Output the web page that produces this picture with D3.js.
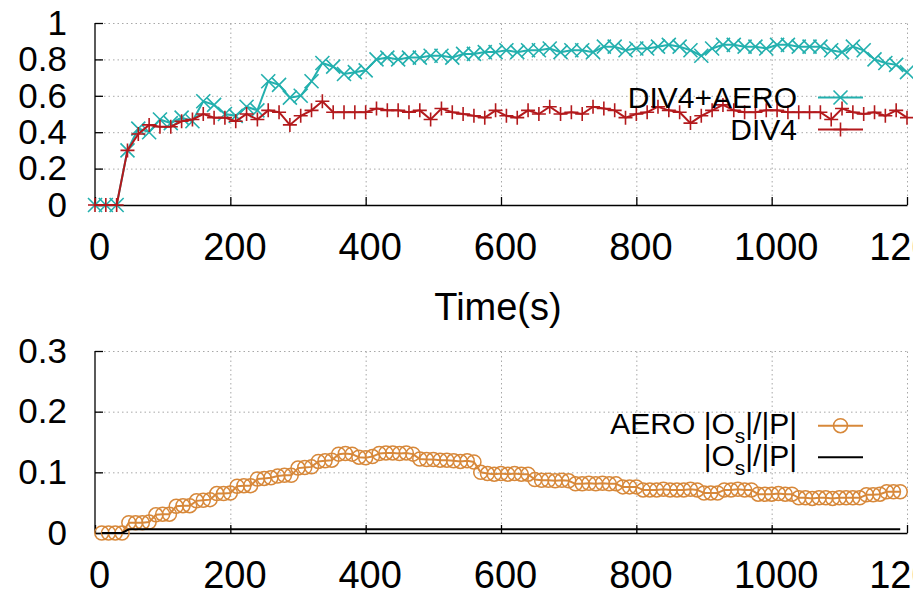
<!DOCTYPE html>
<html>
<head>
<meta charset="utf-8">
<script src="https://cdn.jsdelivr.net/npm/d3@7.9.0/dist/d3.min.js"></script>
<style>
  body { margin: 0; background: #fff; }
  svg { display: block; font-family: "Liberation Sans", Arial, sans-serif; }
  .grid line { stroke: #a8a8a8; stroke-width: 1; stroke-dasharray: 1.5 3; }
  .grid path { display: none; }
  .axis path, .axis line { stroke: #000; stroke-width: 1.3; }
</style>
</head>
<body>
<svg id="chart" width="913" height="597"></svg>
<script>
// top panel: time (s) and share for each configuration
const topTimes = [0, 16, 32, 48, 64, 80, 96, 112, 128, 144, 160, 176, 192, 208, 224, 240,
  256, 272, 288, 304, 320, 336, 352, 368, 384, 400, 416, 432, 448, 464, 480, 496, 512, 528,
  544, 560, 576, 592, 608, 624, 640, 656, 672, 688, 704, 720, 736, 752, 768, 784, 800, 816,
  832, 848, 864, 880, 896, 912, 928, 944, 960, 976, 992, 1008, 1024, 1040, 1056, 1072, 1088,
  1104, 1120, 1136, 1152, 1168, 1184, 1200];
const div4Aero = [0, 0, 0, 0.30, 0.42, 0.40, 0.47, 0.45, 0.48, 0.46, 0.57, 0.55, 0.50, 0.49,
  0.54, 0.52, 0.68, 0.66, 0.59, 0.60, 0.68, 0.78, 0.76, 0.72, 0.73, 0.74, 0.80, 0.81, 0.80,
  0.81, 0.81, 0.82, 0.82, 0.81, 0.83, 0.83, 0.84, 0.84, 0.85, 0.84, 0.85, 0.85, 0.86, 0.84,
  0.85, 0.85, 0.84, 0.87, 0.87, 0.85, 0.86, 0.86, 0.87, 0.88, 0.87, 0.85, 0.82, 0.86, 0.88,
  0.88, 0.87, 0.87, 0.86, 0.88, 0.88, 0.87, 0.87, 0.87, 0.85, 0.84, 0.87, 0.85, 0.80, 0.78,
  0.77, 0.73];
const div4 = [0, 0, 0, 0.30, 0.39, 0.44, 0.43, 0.43, 0.46, 0.47, 0.50, 0.48, 0.48, 0.46, 0.50,
  0.47, 0.52, 0.51, 0.44, 0.49, 0.52, 0.57, 0.51, 0.51, 0.51, 0.51, 0.53, 0.52, 0.52, 0.51,
  0.52, 0.47, 0.53, 0.51, 0.50, 0.49, 0.48, 0.52, 0.49, 0.48, 0.52, 0.50, 0.54, 0.50, 0.51,
  0.50, 0.54, 0.53, 0.52, 0.48, 0.50, 0.51, 0.54, 0.52, 0.51, 0.45, 0.49, 0.52, 0.55, 0.52,
  0.51, 0.51, 0.52, 0.52, 0.51, 0.51, 0.51, 0.51, 0.47, 0.53, 0.51, 0.50, 0.51, 0.49, 0.52,
  0.48];

// bottom panel
const botTimes = [10, 20, 30, 40, 50, 60, 70, 80, 90, 100, 110, 120, 130, 140, 150, 160, 170,
  180, 190, 200, 210, 220, 230, 240, 250, 260, 270, 280, 290, 300, 310, 320, 330, 340, 350,
  360, 370, 380, 390, 400, 410, 420, 430, 440, 450, 460, 470, 480, 490, 500, 510, 520, 530,
  540, 550, 560, 570, 580, 590, 600, 610, 620, 630, 640, 650, 660, 670, 680, 690, 700, 710,
  720, 730, 740, 750, 760, 770, 780, 790, 800, 810, 820, 830, 840, 850, 860, 870, 880, 890,
  900, 910, 920, 930, 940, 950, 960, 970, 980, 990, 1000, 1010, 1020, 1030, 1040, 1050, 1060,
  1070, 1080, 1090, 1100, 1110, 1120, 1130, 1140, 1150, 1160, 1170, 1180, 1190];
const aeroOs = [0, 0, 0, 0, 0.017, 0.017, 0.017, 0.018, 0.030, 0.031, 0.031, 0.044, 0.045,
  0.045, 0.053, 0.054, 0.055, 0.065, 0.065, 0.066, 0.077, 0.078, 0.078, 0.089, 0.090, 0.091,
  0.094, 0.095, 0.095, 0.107, 0.108, 0.109, 0.118, 0.119, 0.120, 0.130, 0.131, 0.130, 0.125,
  0.124, 0.126, 0.131, 0.132, 0.132, 0.131, 0.132, 0.130, 0.122, 0.121, 0.121, 0.120, 0.120,
  0.119, 0.118, 0.119, 0.117, 0.100, 0.098, 0.097, 0.098, 0.097, 0.098, 0.097, 0.097, 0.088,
  0.087, 0.087, 0.086, 0.087, 0.086, 0.081, 0.081, 0.082, 0.081, 0.082, 0.081, 0.081, 0.076,
  0.076, 0.076, 0.071, 0.071, 0.071, 0.072, 0.071, 0.071, 0.071, 0.072, 0.071, 0.066, 0.066,
  0.066, 0.071, 0.071, 0.072, 0.071, 0.071, 0.064, 0.064, 0.064, 0.065, 0.064, 0.064, 0.058,
  0.058, 0.057, 0.058, 0.058, 0.057, 0.058, 0.058, 0.058, 0.058, 0.063, 0.063, 0.064, 0.068,
  0.068, 0.068];
const osBase = [0, 0, 0, 0, 0.006, 0.006, 0.006, 0.006, 0.006, 0.006, 0.006, 0.006, 0.006,
  0.006, 0.006, 0.006, 0.006, 0.006, 0.006, 0.006, 0.006, 0.006, 0.006, 0.006, 0.006, 0.006,
  0.006, 0.006, 0.006, 0.006, 0.006, 0.006, 0.006, 0.006, 0.006, 0.006, 0.006, 0.006, 0.006,
  0.006, 0.006, 0.006, 0.006, 0.006, 0.006, 0.006, 0.006, 0.006, 0.006, 0.006, 0.006, 0.006,
  0.006, 0.006, 0.006, 0.006, 0.006, 0.006, 0.006, 0.006, 0.006, 0.006, 0.006, 0.006, 0.006,
  0.006, 0.006, 0.006, 0.006, 0.006, 0.006, 0.006, 0.006, 0.006, 0.006, 0.006, 0.006, 0.006,
  0.006, 0.006, 0.006, 0.006, 0.006, 0.006, 0.006, 0.006, 0.006, 0.006, 0.006, 0.006, 0.006,
  0.006, 0.006, 0.006, 0.006, 0.006, 0.006, 0.006, 0.006, 0.006, 0.006, 0.006, 0.006, 0.006,
  0.006, 0.006, 0.006, 0.006, 0.006, 0.006, 0.006, 0.006, 0.006, 0.006, 0.006, 0.006, 0.006,
  0.006, 0.006, 0.003];

const xTicks = [0, 200, 400, 600, 800, 1000, 1200];
const topYTicks = [0, 0.2, 0.4, 0.6, 0.8, 1];
const botYTicks = [0, 0.1, 0.2, 0.3];

const cyan = '#23b0ae';
const red = '#b3191c';
const orange = '#d7883a';

const svg = d3.select('#chart');
const x = d3.scaleLinear().domain([0, 1200]).range([95, 907]);
const yTop = d3.scaleLinear().domain([0, 1]).range([205, 23]);
const yBot = d3.scaleLinear().domain([0, 0.3]).range([533, 351]);

function drawFrame(y, yTicks, fmt) {
  const [y0, y1] = y.range();
  // grid
  svg.append('g').attr('class', 'grid')
    .attr('transform', `translate(0,${y0})`)
    .call(d3.axisBottom(x).tickValues(xTicks.slice(1)).tickSize(-(y0 - y1)).tickFormat(''));
  svg.append('g').attr('class', 'grid')
    .attr('transform', `translate(${x(0)},0)`)
    .call(d3.axisLeft(y).tickValues(yTicks.slice(1)).tickSize(-(x(1200) - x(0))).tickFormat(''));

  const xa = svg.append('g').attr('class', 'axis')
    .attr('transform', `translate(0,${y0})`)
    .call(d3.axisBottom(x).tickValues(xTicks).tickSizeInner(-8).tickSizeOuter(0)
      .tickPadding(28).tickFormat(d3.format('d')));
  xa.selectAll('text').attr('font-size', 38).attr('font-family', null).attr('dx', 4);

  const ya = svg.append('g').attr('class', 'axis')
    .attr('transform', `translate(${x(0)},0)`)
    .call(d3.axisLeft(y).tickValues(yTicks).tickSizeInner(-8).tickSizeOuter(0).tickPadding(28).tickFormat(fmt));
  ya.selectAll('text').attr('font-size', 35).attr('font-family', null);
  ya.select('.domain').attr('d', `M0,${y0}V${y1}`);
}

drawFrame(yTop, topYTicks, d3.format('~g'));
drawFrame(yBot, botYTicks, d3.format('~g'));

svg.append('text')
  .attr('x', 498).attr('y', 320)
  .attr('text-anchor', 'middle')
  .attr('font-size', 38)
  .text('Time(s)');

function marker(g, kind, cx, cy, color) {
  const s = 7;
  if (kind === 'x') {
    g.append('path').attr('d', `M${cx - s},${cy - s}L${cx + s},${cy + s}M${cx - s},${cy + s}L${cx + s},${cy - s}`)
      .attr('stroke', color).attr('stroke-width', 1.6).attr('fill', 'none');
  } else if (kind === '+') {
    g.append('path').attr('d', `M${cx - s},${cy}L${cx + s},${cy}M${cx},${cy - s}L${cx},${cy + s}`)
      .attr('stroke', color).attr('stroke-width', 1.6).attr('fill', 'none');
  } else if (kind === 'o') {
    g.append('circle').attr('cx', cx).attr('cy', cy).attr('r', 7)
      .attr('stroke', color).attr('stroke-width', 1.5).attr('fill', 'none');
  }
}

function drawSeries(times, values, y, color, kind) {
  const g = svg.append('g');
  const pts = times.map((t, i) => [t, values[i]]);
  g.append('path')
    .attr('d', d3.line().x((d) => x(d[0])).y((d) => y(d[1]))(pts))
    .attr('fill', 'none').attr('stroke', color).attr('stroke-width', 2);
  if (kind) pts.forEach((d) => marker(g, kind, x(d[0]), y(d[1]), color));
}

drawSeries(topTimes, div4Aero, yTop, cyan, 'x');
drawSeries(topTimes, div4, yTop, red, '+');
drawSeries(botTimes, aeroOs, yBot, orange, 'o');
drawSeries(botTimes, osBase, yBot, '#000', null);

// legends
function legendRow(ty, lineY, color, kind, build) {
  const t = svg.append('text').attr('x', 797).attr('y', ty)
    .attr('text-anchor', 'end').attr('font-size', 30);
  build(t);
  svg.append('line').attr('x1', 818).attr('x2', 863).attr('y1', lineY).attr('y2', lineY)
    .attr('stroke', color).attr('stroke-width', 2);
  if (kind) marker(svg, kind, 840.5, lineY, color);
}

const osLabel = (prefix) => (t) => {
  t.append('tspan').text(prefix + '|O');
  t.append('tspan').attr('dy', 9).attr('font-size', 21).text('s');
  t.append('tspan').attr('dy', -9).text('|/|P|');
};

legendRow(108, 97.5, cyan, 'x', (t) => t.text('DIV4+AERO'));
legendRow(140, 129.5, red, '+', (t) => t.text('DIV4'));
legendRow(434, 425.7, orange, 'o', osLabel('AERO '));
legendRow(466, 457.3, '#000', null, osLabel(''));
</script>
</body>
</html>
